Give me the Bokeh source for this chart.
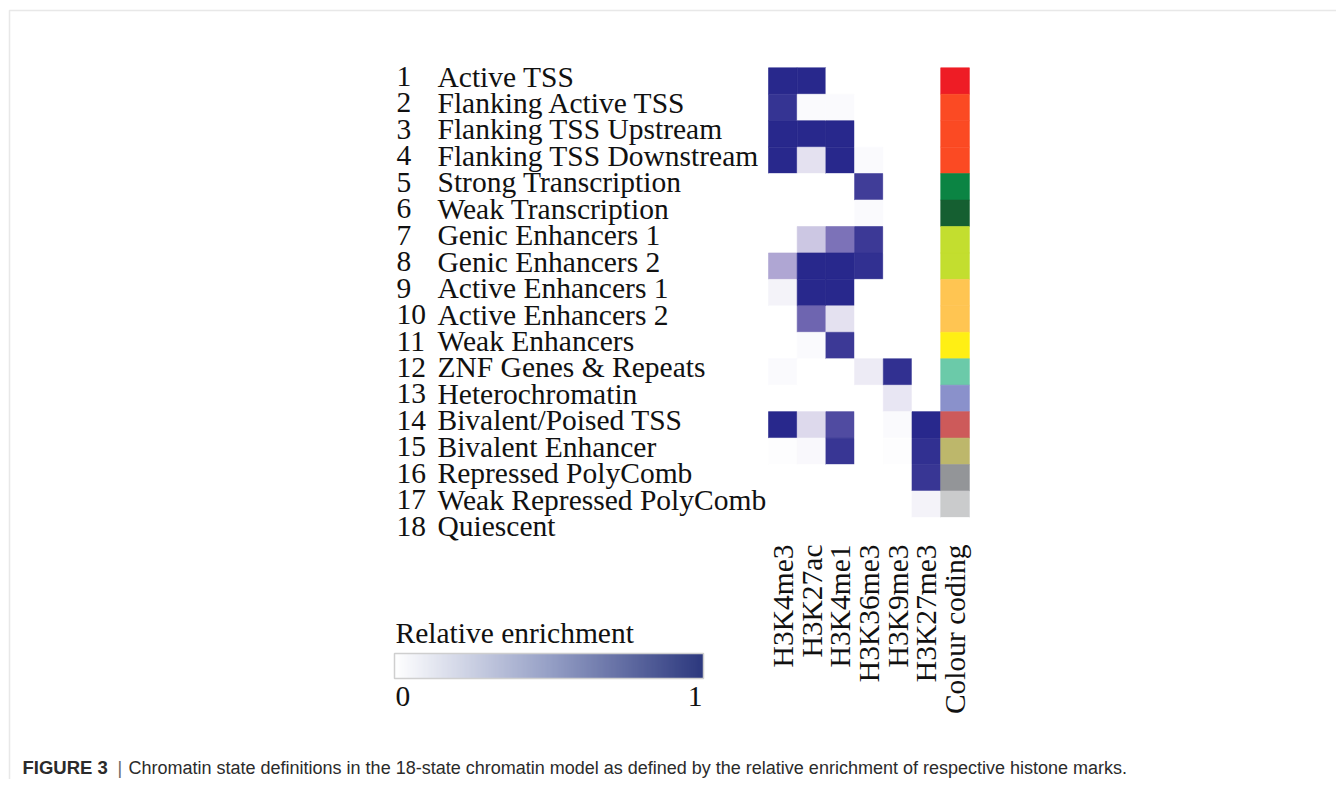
import numpy as np
from bokeh.plotting import figure
from bokeh.models import (Range1d, ColumnDataSource, LinearColorMapper, ColorBar,
                          BoxAnnotation, FixedTicker)
from bokeh.core.properties import value
from bokeh.embed import file_html
from bokeh.resources import INLINE

# ---------------- data ----------------
marks = ["H3K4me3", "H3K27ac", "H3K4me1", "H3K36me3", "H3K9me3", "H3K27me3"]
states = ["Active TSS", "Flanking Active TSS", "Flanking TSS Upstream",
          "Flanking TSS Downstream", "Strong Transcription", "Weak Transcription",
          "Genic Enhancers 1", "Genic Enhancers 2", "Active Enhancers 1",
          "Active Enhancers 2", "Weak Enhancers", "ZNF Genes & Repeats",
          "Heterochromatin", "Bivalent/Poised TSS", "Bivalent Enhancer",
          "Repressed PolyComb", "Weak Repressed PolyComb", "Quiescent"]
H3K4me3 = [1.0, 0.93, 1.0, 1.0, 0, 0, 0, 0.35, 0.05, 0, 0, 0.02, 0, 1.0, 0.01, 0, 0, 0]
H3K27ac = [1.0, 0.02, 1.0, 0.12, 0, 0, 0.22, 1.0, 1.0, 0.65, 0.02, 0, 0, 0.15, 0.03, 0, 0, 0]
H3K4me1 = [0, 0.02, 1.0, 1.0, 0, 0, 0.58, 1.0, 1.0, 0.12, 0.9, 0, 0, 0.8, 0.92, 0, 0, 0]
H3K36me3 = [0, 0, 0, 0.02, 0.88, 0.02, 0.9, 0.95, 0, 0, 0, 0.08, 0, 0, 0, 0, 0, 0]
H3K9me3 = [0, 0, 0, 0, 0, 0, 0, 0, 0, 0, 0, 0.95, 0.1, 0.02, 0.01, 0, 0, 0]
H3K27me3 = [0, 0, 0, 0, 0, 0, 0, 0, 0, 0, 0, 0, 0, 1.0, 0.95, 0.92, 0.05, 0]
state_colours = ["#ee1c25", "#fb4a23", "#fb4a23", "#fb4a23", "#0b8443", "#155f31",
                 "#c3de2f", "#c3de2f", "#ffc552", "#ffc552", "#ffef14", "#6bcaa9",
                 "#8a91cb", "#cd5a5a", "#bdb76b", "#939598", "#cacbcc", "#ffffff"]
colour_label = "Colour coding"
legend_title = "Relative enrichment"
legend_ticks = ["0", "1"]
caption_head = "FIGURE 3"
caption_text = ("Chromatin state definitions in the 18-state chromatin model as defined "
                "by the relative enrichment of respective histone marks.")

# ---------------- palettes ----------------
def ramp(stops, n=256):
    pos = np.linspace(0, 1, n)
    sp = [s[0] for s in stops]
    out = []
    for t in pos:
        rgb = [int(round(np.interp(t, sp, [s[1][k] for s in stops]))) for k in range(3)]
        out.append("#%02x%02x%02x" % tuple(rgb))
    return out

heat_pal = ramp([(0, (255, 255, 255)), (0.5, (140, 128, 192)), (1, (40, 40, 140))])
bar_pal = ramp([(0, (255, 255, 255)), (0.5, (150, 160, 198)), (1, (44, 56, 126))])
heat_map = LinearColorMapper(palette=heat_pal, low=0, high=1)
bar_map = LinearColorMapper(palette=bar_pal, low=0, high=1)

# ---------------- figure ----------------
W, H = 1336, 779
p = figure(width=W, height=H, output_backend="svg", toolbar_location=None,
           x_range=Range1d(0, W), y_range=Range1d(H, 0),
           x_axis_type=None, y_axis_type=None, min_border=0)
p.grid.visible = False
p.outline_line_color = None
p.background_fill_color = "white"

X0, CW = 768.0, 28.7
Y0, RH = 67.3, 26.45
p.extra_x_ranges = {"col": Range1d((0 - X0) / CW, (W - X0) / CW)}
p.extra_y_ranges = {"row": Range1d((H - Y0) / RH, (0 - Y0) / RH)}

# border frame
p.add_layout(BoxAnnotation(left=9, top=10, right=1500, bottom=1000, fill_alpha=0,
                           line_color="#b3b3b3", line_width=1.5))

# heatmap cells
series = [H3K4me3, H3K27ac, H3K4me1, H3K36me3, H3K9me3, H3K27me3]
xs, ys, vs = [], [], []
for ci, col in enumerate(series):
    for ri, v in enumerate(col):
        xs.append(ci + 0.5); ys.append(ri + 0.5); vs.append(v)
src = ColumnDataSource(dict(x=xs, y=ys, v=vs))
p.rect("x", "y", width=1, height=1, source=src, x_range_name="col", y_range_name="row",
       fill_color={"field": "v", "transform": heat_map},
       line_color={"field": "v", "transform": heat_map}, line_width=0.6)

# colour coding column
csrc = ColumnDataSource(dict(x=[len(marks) + 0.5] * len(states),
                             y=[i + 0.5 for i in range(len(states))], c=state_colours))
p.rect("x", "y", width=1, height=1, source=csrc, x_range_name="col", y_range_name="row",
       fill_color="c", line_color="c", line_width=0.6)

FONT = value("Liberation Serif")
# row labels
rsrc = ColumnDataSource(dict(y=[i + 0.5 for i in range(len(states))],
                             num=[str(i + 1) for i in range(len(states))], name=states))
p.text(x=396, y="y", text="num", source=rsrc, y_range_name="row", text_font=FONT,
       text_font_size="29.5px", text_color="#111111", text_align="left",
       text_baseline="alphabetic", y_offset=-4.5)
p.text(x=437, y="y", text="name", source=rsrc, y_range_name="row", text_font=FONT,
       text_font_size="29.5px", text_color="#111111", text_align="left",
       text_baseline="alphabetic", y_offset=-4.5)

# column labels
col_labels = marks + [colour_label]
lsrc = ColumnDataSource(dict(x=[i + 0.5 for i in range(len(col_labels))], t=col_labels))
p.text(x="x", y=544, text="t", source=lsrc, x_range_name="col", angle=np.pi / 2,
       text_font=FONT, text_font_size="29.5px", text_color="#111111",
       text_align="right", text_baseline="middle")

# colour bar
cb = ColorBar(color_mapper=bar_map, orientation="horizontal", width=309, height=25,
              location=(394, 779 - 678), padding=0, title=None,
              ticker=FixedTicker(ticks=[]), major_label_text_font_size="0px",
              major_tick_line_color=None, minor_tick_line_color=None,
              bar_line_color="#cfcfcf", bar_line_width=1.5, label_standoff=0,
              background_fill_color=None, border_line_color=None)
p.add_layout(cb, "center")

p.text(x=[395], y=[632], text=[legend_title], text_font=FONT, text_font_size="29.5px",
       text_color="#111111", text_align="left", text_baseline="alphabetic")
p.text(x=[395, 702], y=[696, 696], text=legend_ticks, text_font=FONT,
       text_font_size="29.5px", text_color="#111111",
       text_align=["left", "right"], text_baseline="alphabetic")

# caption
p.text(x=[22], y=[767], text=[caption_head], text_font=value("Liberation Sans"),
       text_font_size="18.5px", text_font_style="bold", text_color="#2b2b2b",
       text_align="left", text_baseline="alphabetic")
p.text(x=[117], y=[767], text=["|"], text_font=value("Liberation Sans"),
       text_font_size="18px", text_color="#666666", text_align="left",
       text_baseline="alphabetic")
p.text(x=[128], y=[767], text=[caption_text], text_font=value("Liberation Sans"),
       text_font_size="18px", text_color="#2b2b2b", text_align="left",
       text_baseline="alphabetic")

open("out.html", "w").write(file_html(p, INLINE))
